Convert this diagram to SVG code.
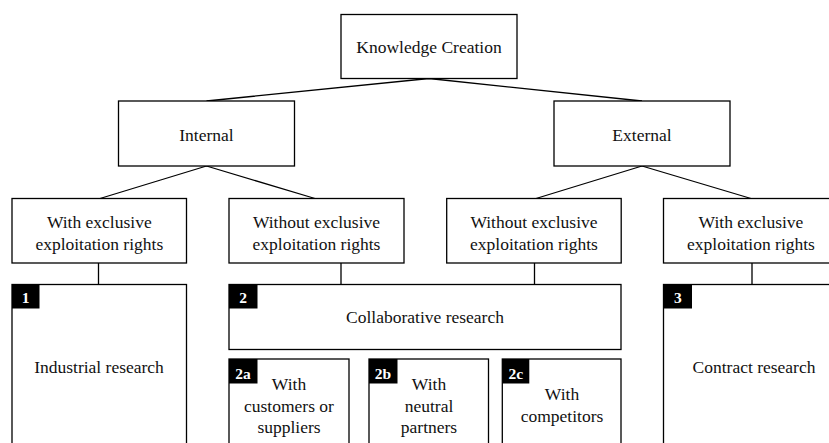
<svg xmlns="http://www.w3.org/2000/svg" width="829" height="443" viewBox="0 0 829 443">
<style>
.box{fill:#fff;stroke:#000;stroke-width:1.3}
.con{fill:none;stroke:#000;stroke-width:1.3}
.t{font-family:"Liberation Serif","Times New Roman",serif;font-size:17.5px;fill:#111;text-anchor:middle}
.badge{fill:#000}
.bt{font-family:"Liberation Serif","Times New Roman",serif;font-size:15.5px;font-weight:bold;fill:#fff;text-anchor:middle}
</style>
<rect width="829" height="443" fill="#fff"/>
<g id="connectors">
<path class="con" d="M429,78.5 L206.5,101 M429,78.5 L642,101"/>
<path class="con" d="M206.5,166 L100,198.5 M206.5,166 L315,198.5"/>
<path class="con" d="M642,166 L536,198.5 M642,166 L751,198.5"/>
<path class="con" d="M98.5,263 V284.5 M341,263 V284.5 M534.5,263 V284.5 M752,263 V284.5"/>
</g>
<g id="knowledge-creation">
<rect class="box" x="341" y="14.5" width="176" height="64"/>
<text class="t" x="429" y="53.3">Knowledge Creation</text>
</g>
<g id="internal">
<rect class="box" x="118.5" y="101" width="176" height="65"/>
<text class="t" x="206.5" y="140.5">Internal</text>
</g>
<g id="external">
<rect class="box" x="554" y="101" width="176" height="65"/>
<text class="t" x="642" y="140.5">External</text>
</g>
<g id="int-with">
<rect class="box" x="12" y="198.5" width="174.5" height="64.5"/>
<text class="t" x="99.3" y="227.7">With exclusive</text>
<text class="t" x="99.3" y="250">exploitation rights</text>
</g>
<g id="int-without">
<rect class="box" x="229" y="198.5" width="175" height="64.5"/>
<text class="t" x="316.5" y="227.7">Without exclusive</text>
<text class="t" x="316.5" y="250">exploitation rights</text>
</g>
<g id="ext-without">
<rect class="box" x="446.7" y="198.5" width="174.5" height="64.5"/>
<text class="t" x="534" y="227.7">Without exclusive</text>
<text class="t" x="534" y="250">exploitation rights</text>
</g>
<g id="ext-with">
<rect class="box" x="663.5" y="198.5" width="175" height="64.5"/>
<text class="t" x="751" y="227.7">With exclusive</text>
<text class="t" x="751" y="250">exploitation rights</text>
</g>
<g id="industrial-research">
<rect class="box" x="12" y="284.5" width="174.5" height="180"/>
<rect class="badge" x="12" y="284.5" width="27.5" height="24"/>
<text class="bt" x="25.5" y="303.3">1</text>
<text class="t" x="99" y="373.3">Industrial research</text>
</g>
<g id="collaborative-research">
<rect class="box" x="229" y="284.5" width="392" height="65"/>
<rect class="badge" x="229" y="284.5" width="28.5" height="24"/>
<text class="bt" x="243" y="303.3">2</text>
<text class="t" x="425" y="323.3">Collaborative research</text>
</g>
<g id="with-customers">
<rect class="box" x="229" y="359" width="120" height="100"/>
<rect class="badge" x="229" y="359" width="28.5" height="24.5"/>
<text class="bt" x="243" y="378.5">2a</text>
<text class="t" x="289" y="390">With</text>
<text class="t" x="289" y="411.5">customers or</text>
<text class="t" x="289" y="433">suppliers</text>
</g>
<g id="with-neutral">
<rect class="box" x="369" y="359" width="119.5" height="100"/>
<rect class="badge" x="369" y="359" width="28.5" height="24.5"/>
<text class="bt" x="383" y="378.5">2b</text>
<text class="t" x="429" y="390">With</text>
<text class="t" x="429" y="411.5">neutral</text>
<text class="t" x="429" y="433">partners</text>
</g>
<g id="with-competitors">
<rect class="box" x="502.3" y="359" width="118.7" height="100"/>
<rect class="badge" x="502.3" y="359" width="27" height="24.5"/>
<text class="bt" x="515.8" y="378.5">2c</text>
<text class="t" x="562" y="400">With</text>
<text class="t" x="562" y="421.5">competitors</text>
</g>
<g id="contract-research">
<rect class="box" x="663.5" y="284.5" width="175" height="180"/>
<rect class="badge" x="663.5" y="284.5" width="28.5" height="24"/>
<text class="bt" x="677.8" y="303.3">3</text>
<text class="t" x="754" y="373.3">Contract research</text>
</g>
</svg>
